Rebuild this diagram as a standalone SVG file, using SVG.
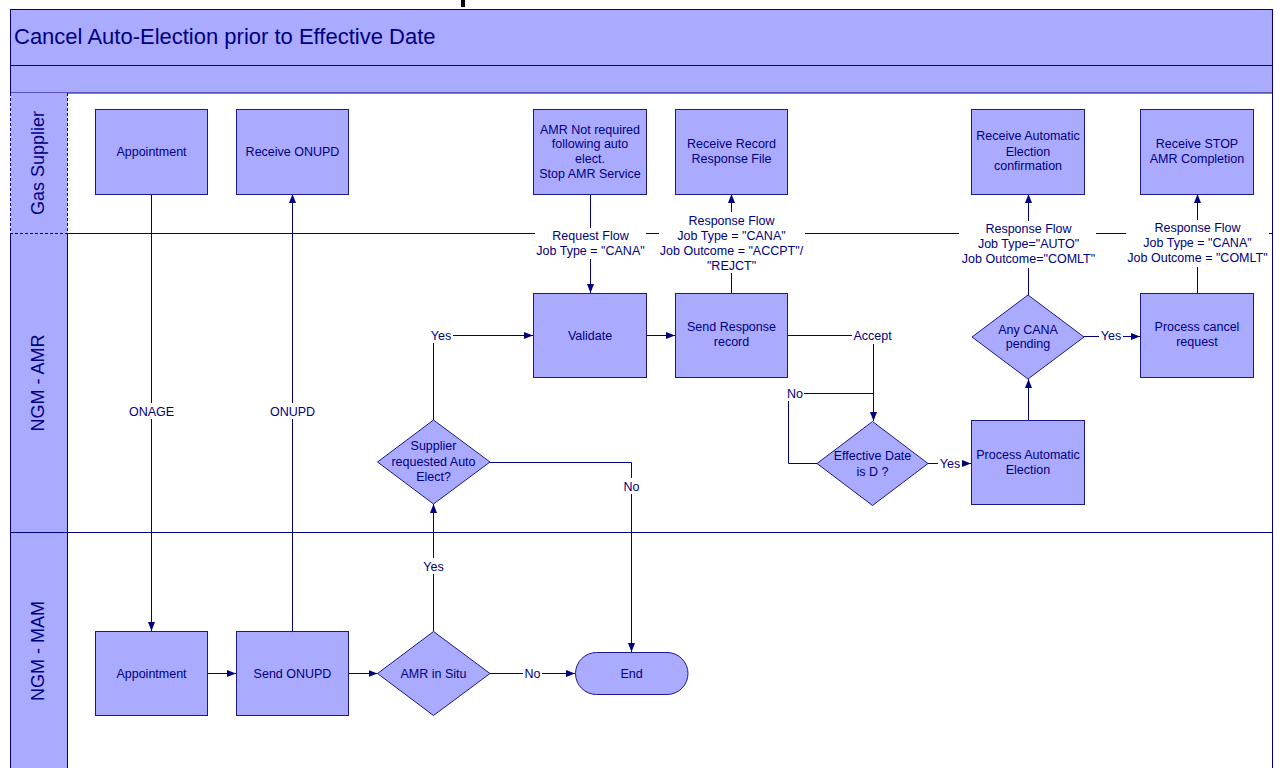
<svg xmlns="http://www.w3.org/2000/svg" width="1275" height="768" viewBox="0 0 1275 768">
  <defs>
    <style>
      .band { fill: #AAAAFF; stroke: #000080; stroke-width: 1; }
      .node { fill: #AAAAFF; stroke: #1A1A85; stroke-width: 1; }
      .lane { stroke: #000080; stroke-width: 1; fill: none; }
      .dash { stroke: #000080; stroke-width: 1; fill: none; stroke-dasharray: 3 2; }
      .conn { stroke: #000080; stroke-width: 1; fill: none; }
      .arrow { marker-end: url(#arr); }
      .gap { fill: #FFFFFF; stroke: none; }
      text { font-family: "Liberation Sans", Arial, sans-serif; fill: #000080; }
      .t { font-size: 12.5px; text-anchor: middle; }
      .lanelbl { font-size: 18px; text-anchor: middle; }
      .title { font-size: 22px; }
    </style>
    <marker id="arr" markerUnits="userSpaceOnUse" markerWidth="9" markerHeight="8" refX="9" refY="4" orient="auto">
      <path d="M0,0.5 L9,4 L0,7.5 Z" fill="#000080"/>
    </marker>
  </defs>

  <rect x="0" y="0" width="1275" height="768" fill="#FFFFFF"/>

  <!-- fragment of the heading above the pool -->
  <rect x="461" y="0" width="4" height="7" fill="#000000"/>

  <!-- pool header -->
  <g id="header">
    <rect class="band" x="10.5" y="9.5" width="1262" height="56"/>
    <rect class="band" x="10.5" y="65.5" width="1262" height="27.5"/>
    <text class="title" x="14" y="44">Cancel Auto-Election prior to Effective Date</text>
  </g>

  <!-- swimlanes -->
  <g id="lanes">
    <rect x="10.5" y="93" width="57" height="675" fill="#AAAAFF"/>
    <path class="dash" d="M10.5,93 V233.5 H67.5 V93"/>
    <path class="lane" d="M10.5,233.5 V768 M67.5,233.5 V768"/>
    <path class="lane" d="M67.5,233.5 H1272.5"/>
    <path class="lane" d="M10.5,532.5 H1272.5"/>
    <path class="lane" d="M1272.5,93 V768"/>
    <text class="lanelbl" transform="translate(43.5,163) rotate(-90)">Gas Supplier</text>
    <text class="lanelbl" transform="translate(44,383) rotate(-90)">NGM - AMR</text>
    <text class="lanelbl" transform="translate(44,651) rotate(-90)">NGM - MAM</text>
  </g>

  <!-- connectors -->
  <g id="connectors">
    <path class="conn arrow" d="M151.5,194 V631"/>
    <path class="conn arrow" d="M292.5,631 V194"/>
    <path class="conn arrow" d="M208,673.5 H236"/>
    <path class="conn arrow" d="M349,673.5 H377.5"/>
    <path class="conn arrow" d="M490,673.5 H575"/>
    <path class="conn arrow" d="M433.5,631.5 V504"/>
    <path class="conn arrow" d="M433.5,420 V335.5 H533"/>
    <path class="conn arrow" d="M490,462.5 H631.5 V652"/>
    <path class="conn arrow" d="M590.5,194 V293"/>
    <path class="conn arrow" d="M647,335.5 H675"/>
    <path class="conn arrow" d="M731.5,293 V194"/>
    <path class="conn arrow" d="M788,335.5 H873.5 V421"/>
    <path class="conn" d="M817,463.5 H788.5 V393.5 H873.5"/>
    <path class="conn arrow" d="M928,463.5 H971"/>
    <path class="conn arrow" d="M1028.5,420 V379"/>
    <path class="conn arrow" d="M1028.5,295 V194"/>
    <path class="conn arrow" d="M1084,336.5 H1140"/>
    <path class="conn arrow" d="M1197.5,293 V194"/>

    <!-- connector labels -->
    <rect class="gap" x="128" y="403" width="47" height="16"/>
    <text class="t" x="151.5" y="415.5">ONAGE</text>
    <rect class="gap" x="269" y="403" width="47" height="16"/>
    <text class="t" x="292.5" y="415.5">ONUPD</text>

    <rect class="gap" x="429" y="327" width="24" height="16"/>
    <text class="t" x="441" y="339.5">Yes</text>
    <rect class="gap" x="422" y="558" width="24" height="16"/>
    <text class="t" x="433.5" y="571">Yes</text>
    <rect class="gap" x="622" y="478" width="19" height="16"/>
    <text class="t" x="631.5" y="490.5">No</text>
    <rect class="gap" x="523" y="665" width="19" height="16"/>
    <text class="t" x="532.5" y="678">No</text>

    <rect class="gap" x="852" y="327" width="41" height="17"/>
    <text class="t" x="872.5" y="339.5">Accept</text>
    <rect class="gap" x="786" y="385" width="18" height="16"/>
    <text class="t" x="795" y="397.5">No</text>
    <rect class="gap" x="938" y="455" width="24" height="16"/>
    <text class="t" x="950" y="467.5">Yes</text>
    <rect class="gap" x="1099" y="327" width="24" height="16"/>
    <text class="t" x="1111" y="339.5">Yes</text>

    <rect class="gap" x="535" y="228" width="111" height="31"/>
    <text class="t" x="590.5" y="239.5">Request Flow</text>
    <text class="t" x="590.5" y="255">Job Type = "CANA"</text>

    <rect class="gap" x="659" y="212" width="146" height="61"/>
    <text class="t" x="731.5" y="224.5">Response Flow</text>
    <text class="t" x="731.5" y="239.5">Job Type = "CANA"</text>
    <text class="t" x="731.5" y="255">Job Outcome = "ACCPT"/</text>
    <text class="t" x="731.5" y="270">"REJCT"</text>

    <rect class="gap" x="959" y="221" width="137" height="47"/>
    <text class="t" x="1028.5" y="232.5">Response Flow</text>
    <text class="t" x="1028.5" y="247.5">Job Type="AUTO"</text>
    <text class="t" x="1028.5" y="263">Job Outcome="COMLT"</text>

    <rect class="gap" x="1126" y="220" width="143" height="47"/>
    <text class="t" x="1197.5" y="232">Response Flow</text>
    <text class="t" x="1197.5" y="247">Job Type = "CANA"</text>
    <text class="t" x="1197.5" y="262">Job Outcome = "COMLT"</text>
  </g>

  <!-- Gas Supplier lane -->
  <g id="gs-appointment">
    <rect class="node" x="95.5" y="109.5" width="112" height="85"/>
    <text class="t" x="151.5" y="155.5">Appointment</text>
  </g>
  <g id="gs-receive-onupd">
    <rect class="node" x="236.5" y="109.5" width="112" height="85"/>
    <text class="t" x="292.5" y="155.5">Receive ONUPD</text>
  </g>
  <g id="gs-amr-not-required">
    <rect class="node" x="533.5" y="109.5" width="113" height="85"/>
    <text class="t" x="590" y="133.5">AMR Not required</text>
    <text class="t" x="590" y="148">following auto</text>
    <text class="t" x="590" y="162.5">elect.</text>
    <text class="t" x="590" y="177.5">Stop AMR Service</text>
  </g>
  <g id="gs-receive-record">
    <rect class="node" x="675.5" y="109.5" width="112" height="85"/>
    <text class="t" x="731.5" y="148">Receive Record</text>
    <text class="t" x="731.5" y="163">Response File</text>
  </g>
  <g id="gs-receive-auto">
    <rect class="node" x="971.5" y="109.5" width="113" height="85"/>
    <text class="t" x="1028" y="140">Receive Automatic</text>
    <text class="t" x="1028" y="155.5">Election</text>
    <text class="t" x="1028" y="170">confirmation</text>
  </g>
  <g id="gs-receive-stop">
    <rect class="node" x="1140.5" y="109.5" width="113" height="85"/>
    <text class="t" x="1197" y="148">Receive STOP</text>
    <text class="t" x="1197" y="163">AMR Completion</text>
  </g>

  <!-- NGM - AMR lane -->
  <g id="amr-validate">
    <rect class="node" x="533.5" y="293.5" width="113" height="84"/>
    <text class="t" x="590" y="339.5">Validate</text>
  </g>
  <g id="amr-send-response">
    <rect class="node" x="675.5" y="293.5" width="112" height="84"/>
    <text class="t" x="731.5" y="331">Send Response</text>
    <text class="t" x="731.5" y="346">record</text>
  </g>
  <g id="amr-any-cana">
    <polygon class="node" points="1028,295 1084,337 1028,379 972,337"/>
    <text class="t" x="1028" y="333.5">Any CANA</text>
    <text class="t" x="1028" y="348">pending</text>
  </g>
  <g id="amr-process-cancel">
    <rect class="node" x="1140.5" y="293.5" width="113" height="84"/>
    <text class="t" x="1197" y="331">Process cancel</text>
    <text class="t" x="1197" y="346">request</text>
  </g>
  <g id="amr-supplier-requested">
    <polygon class="node" points="433.5,420 490,462 433.5,504 377.5,462"/>
    <text class="t" x="433.5" y="450">Supplier</text>
    <text class="t" x="433.5" y="466">requested Auto</text>
    <text class="t" x="433.5" y="481">Elect?</text>
  </g>
  <g id="amr-effective-date">
    <polygon class="node" points="872.5,421.5 928,463.5 872.5,505.5 817,463.5"/>
    <text class="t" x="872.5" y="460">Effective Date</text>
    <text class="t" x="872.5" y="475.5">is D ?</text>
  </g>
  <g id="amr-process-auto">
    <rect class="node" x="971.5" y="420.5" width="113" height="84"/>
    <text class="t" x="1028" y="458.5">Process Automatic</text>
    <text class="t" x="1028" y="473.5">Election</text>
  </g>

  <!-- NGM - MAM lane -->
  <g id="mam-appointment">
    <rect class="node" x="95.5" y="631.5" width="112" height="84"/>
    <text class="t" x="151.5" y="677.5">Appointment</text>
  </g>
  <g id="mam-send-onupd">
    <rect class="node" x="236.5" y="631.5" width="112" height="84"/>
    <text class="t" x="292.5" y="677.5">Send ONUPD</text>
  </g>
  <g id="mam-amr-in-situ">
    <polygon class="node" points="433.5,631.5 490,673.5 433.5,715.5 377.5,673.5"/>
    <text class="t" x="433.5" y="677.5">AMR in Situ</text>
  </g>
  <g id="mam-end">
    <rect class="node" x="575.5" y="652.5" width="112.5" height="42" rx="21" ry="21"/>
    <text class="t" x="631.5" y="677.5">End</text>
  </g>
</svg>
